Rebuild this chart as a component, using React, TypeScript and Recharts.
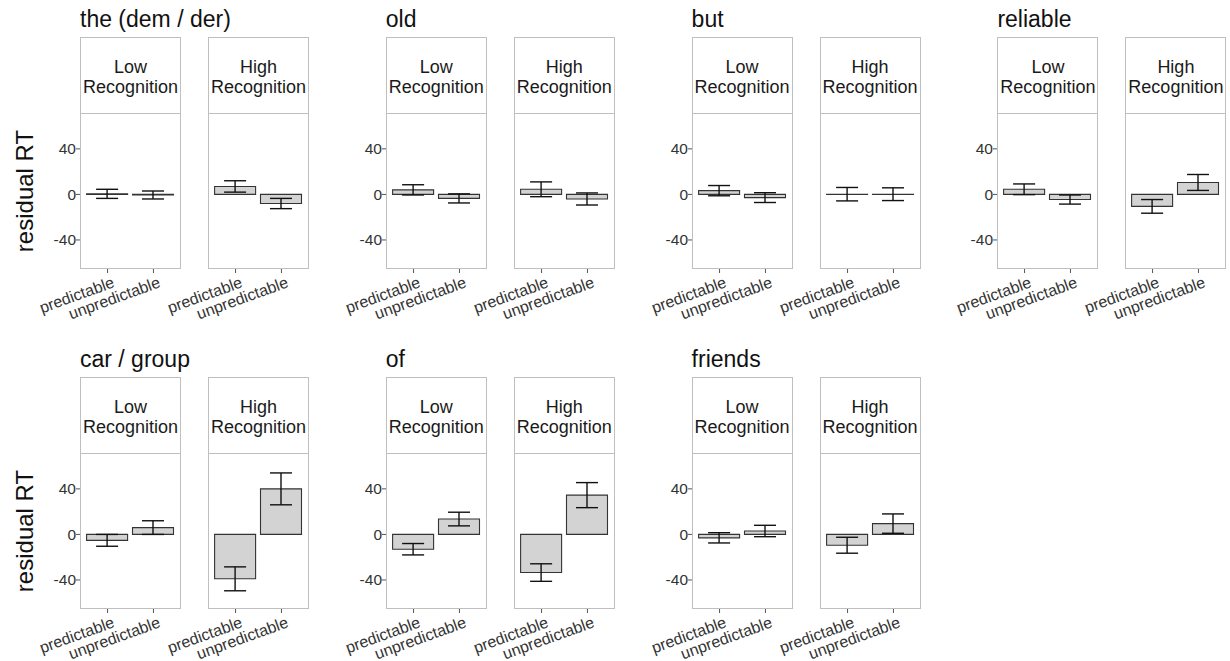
import React from 'react';
import { BarChart, Bar, XAxis, YAxis, ErrorBar } from 'recharts';

// words, one small-multiple group each
const words = ['the (dem / der)', 'old', 'but', 'reliable', 'car / group', 'of', 'friends'];
const conditions = ['predictable', 'unpredictable'];
const levels = ['Low', 'High'];
const yTicks = [-40, 0, 40];

// mean residual RT per word: [predictable, unpredictable]
const lowMean = [[0.5, -0.5], [4, -3.5], [3.3, -2.8], [4.5, -4.5], [-5.2, 6], [-13, 13.5], [-3, 3]];
const lowErr = [[4, 3.5], [4.5, 4], [4.5, 4.3], [4.7, 4], [5.2, 6], [5, 6], [4.5, 5]];
const highMean = [[7, -8], [4.5, -4], [0.2, 0.2], [-10.5, 10.5], [-39, 40], [-33.5, 34.5], [-9.5, 9.5]];
const highErr = [[5, 4.5], [6.5, 5.3], [5.9, 5.6], [6, 7], [10.5, 14], [7.7, 11], [7, 8.5]];

const FONT = 'Arial, "Liberation Sans", sans-serif';
const GX0 = 80, GDX = 305.8, RDY = 340;
const PW = 101, HIGH_OFF = 128;
const BOX_TOP = 37, STRIP_H = 76, PLOT_H = 156;
const YW = 45, XH = 48;

const XTick = (props: any) => {
  const { x, y, payload } = props;
  const ax = x + 4, ay = y + 1;
  return (
    <text x={ax} y={ay} dy="0.71em" textAnchor="end" fontSize={16} fill="#333"
      fontFamily={FONT} transform={`rotate(-20 ${ax} ${ay})`}>{payload.value}</text>
  );
};

function Panel({ w, lvl, left, top }: { w: number; lvl: number; left: number; top: number }) {
  const means = lvl === 0 ? lowMean[w] : highMean[w];
  const errs = lvl === 0 ? lowErr[w] : highErr[w];
  const data = conditions.map((c, i) => ({ cond: c, mean: means[i], err: errs[i] }));
  const showY = lvl === 0;
  return (
    <>
      <div style={{
        position: 'absolute', left, top: top + BOX_TOP, width: PW, height: STRIP_H + PLOT_H,
        border: '1px solid #bfbfbf', boxSizing: 'border-box',
      }}>
        <div style={{ position: 'absolute', left: 0, right: 0, top: 0, height: STRIP_H - 1, borderBottom: '1px solid #bfbfbf' }} />
        <div style={{
          position: 'absolute', left: -4, right: -4, top: 19, textAlign: 'center',
          fontFamily: FONT, fontSize: 18, lineHeight: '20px', color: '#1a1a1a',
        }}>
          {levels[lvl]}<br />Recognition
        </div>
      </div>
      <div style={{ position: 'absolute', left: left - YW, top: top + BOX_TOP + STRIP_H }}>
        <BarChart width={YW + PW} height={PLOT_H + XH} data={data}
          margin={{ top: 0, right: 0, bottom: 0, left: 0 }}>
          <XAxis dataKey="cond" height={XH} axisLine={false} tickSize={4} tickMargin={2}
            tickLine={{ stroke: '#555' }} padding={{ left: 4.6, right: 4.6 }}
            tick={<XTick />} interval={0} />
          <YAxis width={YW} domain={[-65.5, 71.5]} ticks={yTicks} allowDataOverflow
            axisLine={false} tickSize={4} tickMargin={0}
            tickLine={showY ? { stroke: '#555' } : false}
            tick={showY ? { fontSize: 15.5, fill: '#333', fontFamily: FONT } : false} />
          <Bar dataKey="mean" fill="#d3d3d3" stroke="#333" strokeWidth={1.1} barSize={41}
            isAnimationActive={false}>
            <ErrorBar dataKey="err" width={11} stroke="#111" strokeWidth={1.4} direction="y" />
          </Bar>
        </BarChart>
      </div>
    </>
  );
}

export default function App() {
  return (
    <div style={{ position: 'absolute', left: 0, top: 0, width: 1230, height: 661, background: '#fff' }}>
      <style>{`.recharts-surface{overflow:visible}`}</style>
      {words.map((word, w) => {
        const row = w < 4 ? 0 : 1;
        const col = row === 0 ? w : w - 4;
        const gx = GX0 + col * GDX;
        const gy = row * RDY;
        return (
          <React.Fragment key={word}>
            <div style={{
              position: 'absolute', left: gx, top: gy + 6, fontFamily: FONT, fontSize: 23,
              lineHeight: '26px', color: '#111', whiteSpace: 'nowrap',
            }}>{word}</div>
            <Panel w={w} lvl={0} left={gx} top={gy} />
            <Panel w={w} lvl={1} left={gx + HIGH_OFF} top={gy} />
          </React.Fragment>
        );
      })}
      {[0, 1].map(r => (
        <div key={r} style={{
          position: 'absolute', left: 25, top: 191 + r * RDY, transform: 'translate(-50%, -50%) rotate(-90deg)',
          fontFamily: FONT, fontSize: 24, color: '#111', whiteSpace: 'nowrap',
        }}>residual RT</div>
      ))}
    </div>
  );
}
